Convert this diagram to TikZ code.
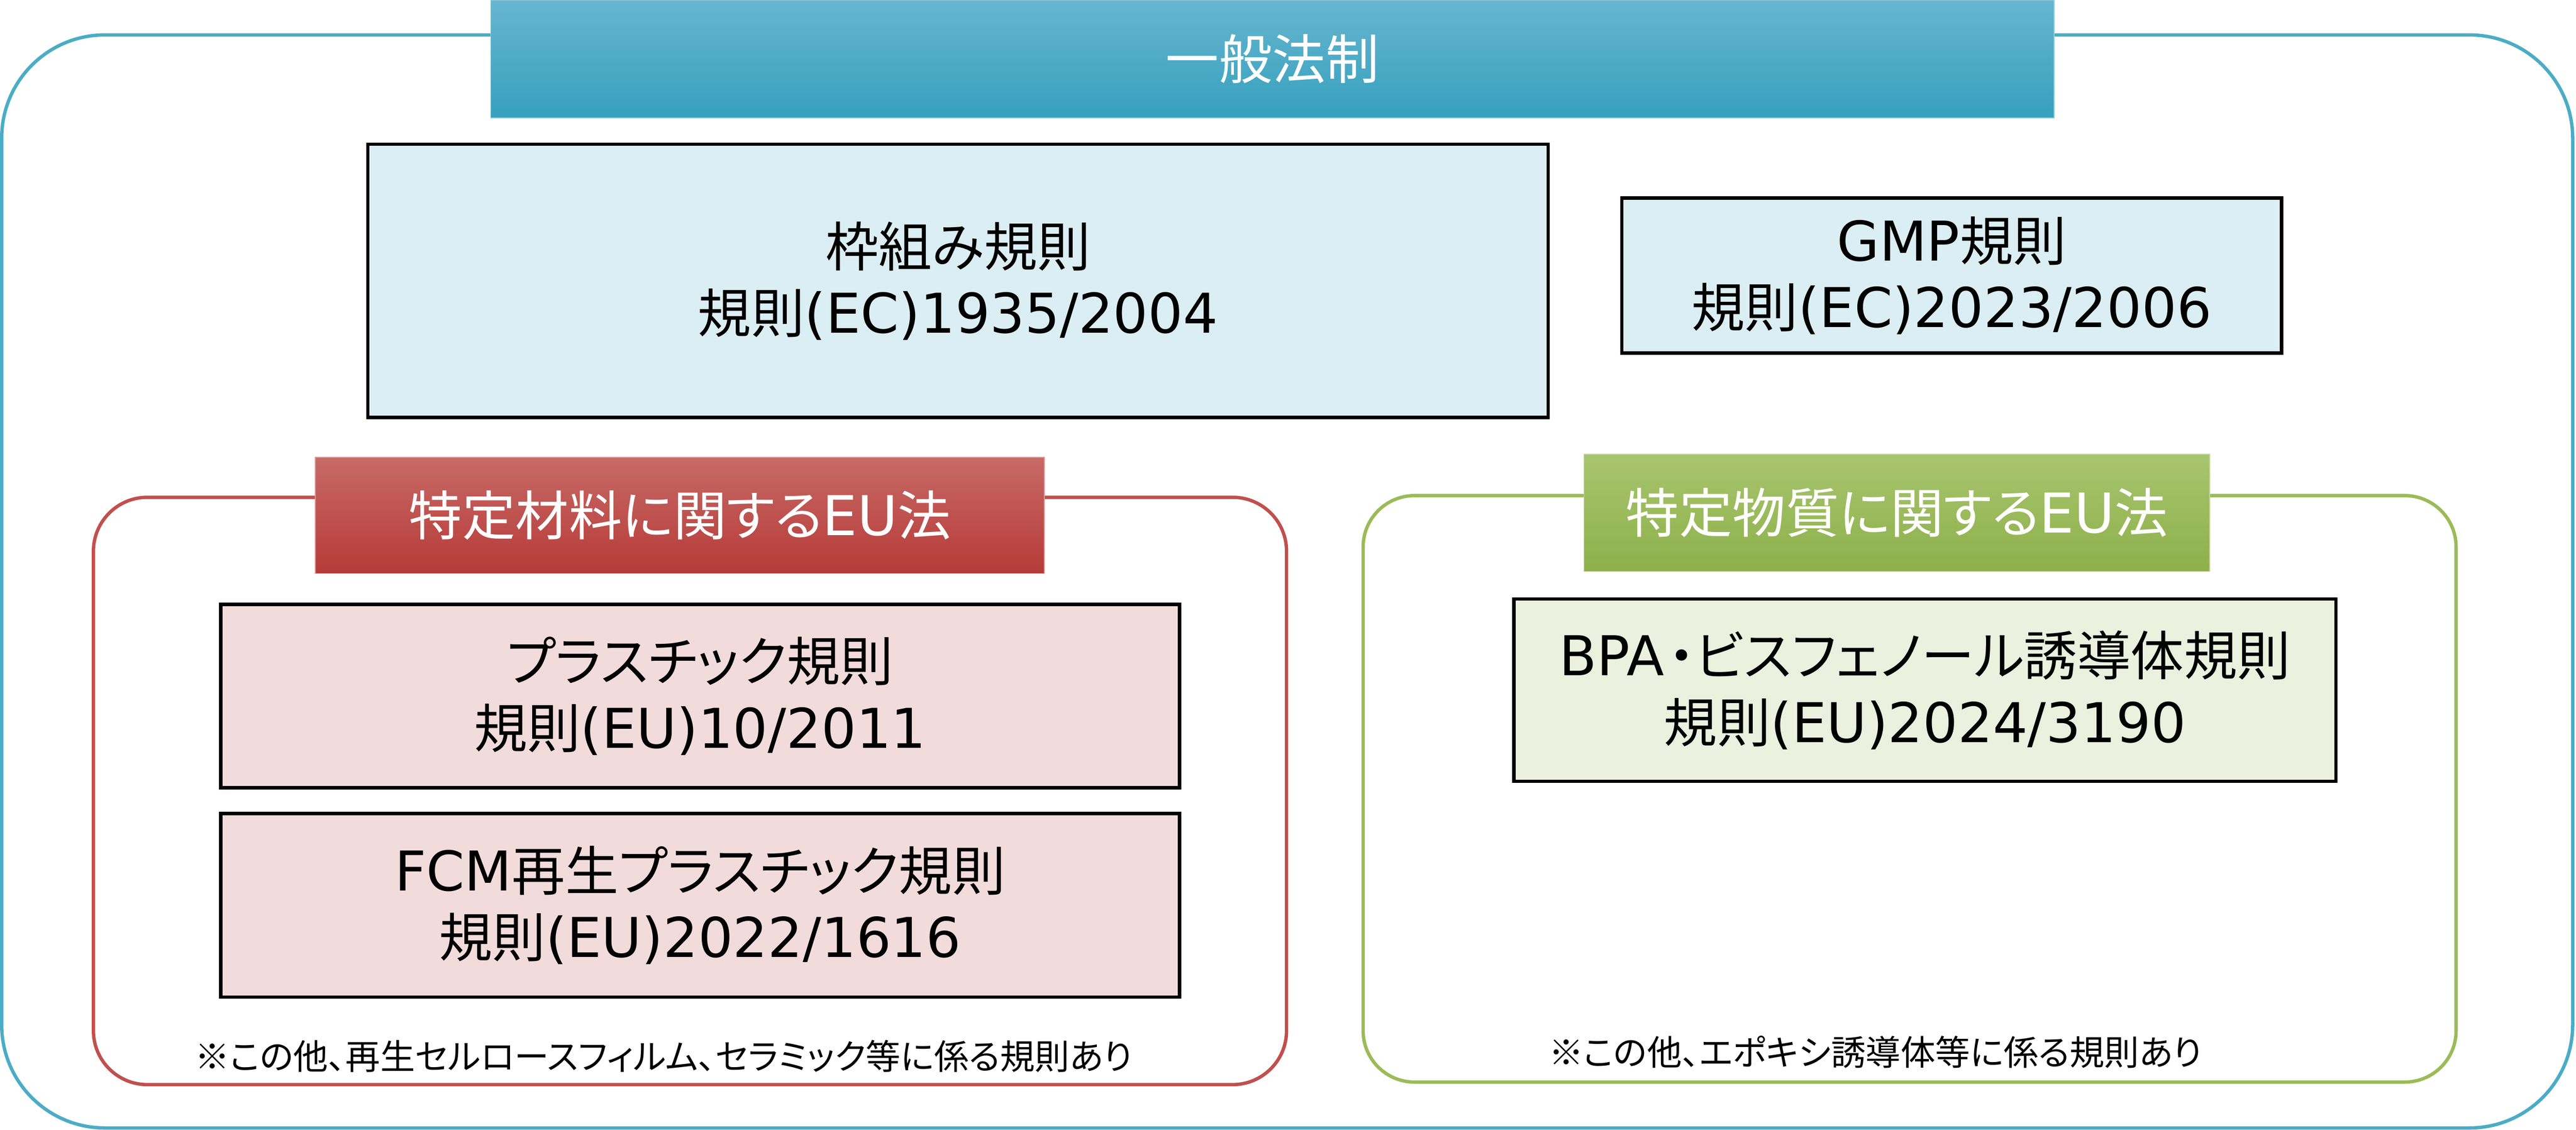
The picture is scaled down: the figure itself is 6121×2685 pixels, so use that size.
\documentclass[tikz,border=0pt]{standalone}
\usepackage{fontspec}
\setmainfont{Noto Sans CJK JP}[CharacterWidth=AlternateProportional]
\newfontfamily\latfont{DejaVu Sans}[Scale=1.03]
\newcommand{\lat}[1]{{\latfont #1}}

\definecolor{frmblue}{RGB}{75,172,198}
\definecolor{frmred}{RGB}{192,80,77}
\definecolor{frmgreen}{RGB}{155,187,89}
\definecolor{fillblue}{RGB}{219,238,244}
\definecolor{fillred}{RGB}{242,220,219}
\definecolor{fillgreen}{RGB}{235,241,222}
\definecolor{hdrbluetop}{RGB}{103,182,207}
\definecolor{hdrbluebot}{RGB}{54,160,189}
\definecolor{hdrredtop}{RGB}{199,106,102}
\definecolor{hdrredbot}{RGB}{182,58,56}
\definecolor{hdrgreentop}{RGB}{168,197,111}
\definecolor{hdrgreenbot}{RGB}{141,176,74}

\tikzset{
  rulebox/.style={draw=black, line width=0.08cm, inner sep=0pt, align=center,
    font=\fontsize{36}{45}\selectfont},
  hdr/.style={inner sep=0pt, text=white, line width=0.02cm,
    font=\fontsize{36}{45}\selectfont},
  grpframe/.style={line width=0.08cm, fill=white},
  note/.style={inner sep=0pt, font=\fontsize{23.5}{28}\selectfont}
}

\begin{document}
\begin{tikzpicture}[x=0.01cm,y=-0.01cm]
    \useasboundingbox (0,0) rectangle (6121,2685);
    % group frames
    \draw [grpframe, draw=frmblue, rounded corners=2.45cm] (4,83) rectangle (6113,2681);
    \draw [grpframe, draw=frmred, rounded corners=1.28cm] (222,1182) rectangle (3057,2578);
    \draw [grpframe, draw=frmgreen, rounded corners=1.22cm] (3239,1178) rectangle (5836,2572);
    % headers
    \node [hdr, draw=hdrbluetop!70!white, top color=hdrbluetop, bottom color=hdrbluebot,
        minimum width=37.13cm, minimum height=2.8cm] (general) at (3023.5,140) {一般法制};
    \node [hdr, draw=hdrredtop!70!white, top color=hdrredtop, bottom color=hdrredbot,
        minimum width=17.31cm, minimum height=2.76cm] (material) at (1615.5,1225) {特定材料に関する\lat{EU}法};
    \node [hdr, draw=hdrgreentop!70!white, top color=hdrgreentop, bottom color=hdrgreenbot,
        minimum width=14.86cm, minimum height=2.78cm] (substance) at (4507,1219) {特定物質に関する\lat{EU}法};
    % regulations
    \node [rulebox, fill=fillblue, minimum width=28.03cm, minimum height=6.49cm] (framework) at (2276.5,667.5) {枠組み規則\\規則\lat{(EC)1935/2004}};
    \node [rulebox, fill=fillblue, minimum width=15.67cm, minimum height=3.68cm] (gmp) at (4637.5,655) {\lat{GMP}規則\\規則\lat{(EC)2023/2006}};
    \node [rulebox, fill=fillred, minimum width=22.77cm, minimum height=4.35cm] (plastic) at (1663.5,1654.5) {プラスチック規則\\規則\lat{(EU)10/2011}};
    \node [rulebox, fill=fillred, minimum width=22.77cm, minimum height=4.36cm] (recycled) at (1663.5,2152) {\lat{FCM}再生プラスチック規則\\規則\lat{(EU)2022/1616}};
    \node [rulebox, fill=fillgreen, minimum width=19.52cm, minimum height=4.33cm] (bpa) at (4574,1640.5) {\lat{BPA}\kern0.08em・ビスフェノール誘導体規則\\規則\lat{(EU)2024/3190}};
    % notes
    \node [note] (rednote) at (1577,2511) {※この他、再生セルロースフィルム、セラミック等に係る規則あり};
    \node [note] (greennote) at (4456,2500) {※この他、エポキシ誘導体等に係る規則あり};
\end{tikzpicture}
\end{document}
